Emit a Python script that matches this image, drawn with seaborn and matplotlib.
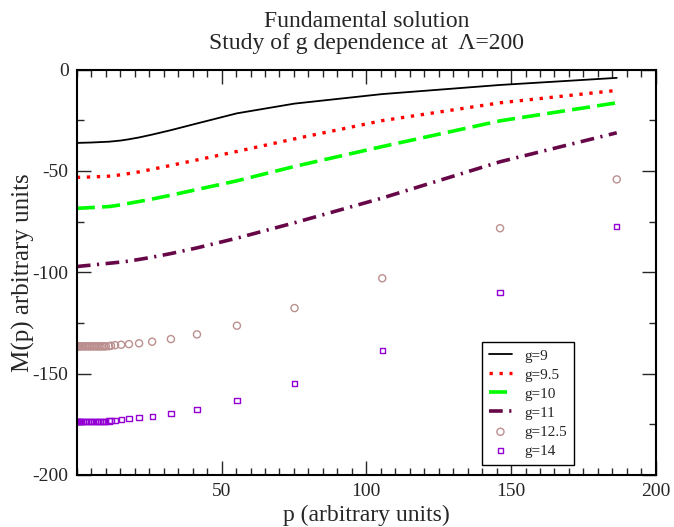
import matplotlib
matplotlib.use("Agg")
import matplotlib.pyplot as plt
import seaborn as sns
from matplotlib.ticker import MultipleLocator

# momentum grid for the continuous curves
p_line = [0, 5, 11.1, 13.2, 15.3, 18, 21.5, 26, 32.5, 41.5, 55.3, 75.2, 105.5, 146.2, 186.5]
m_g9 = [-36.2, -36.0, -35.6, -35.3, -35.0, -34.4, -33.5, -32.1, -29.9, -26.6, -21.6, -16.8, -12.1, -7.6, -4.1]
m_g95 = [-53.2, -53.0, -52.6, -52.3, -51.9, -51.3, -50.5, -49.2, -47.3, -44.6, -40.4, -34.2, -25.2, -16.4, -10.3]
m_g10 = [-68.5, -68.1, -67.6, -67.2, -66.7, -66.0, -65.1, -63.9, -62.0, -59.2, -54.9, -47.8, -38.0, -25.3, -16.4]
m_g11 = [-97.2, -96.5, -95.6, -95.3, -95.0, -94.5, -93.7, -92.6, -90.8, -88.0, -83.2, -75.6, -63.4, -45.5, -31.2]

# momentum grid for the point series (dense near zero)
p_pts = [0.05, 0.2, 0.45, 0.8, 1.2, 1.7, 2.2, 2.8, 3.4, 4.0, 4.6, 5.2, 5.8, 6.4, 7.0,
         7.6, 8.2, 8.8, 9.4, 10.0,
         11.1, 11.8, 13.2, 15.3, 18, 21.5, 26, 32.5, 41.5, 55.3, 75.2, 105.5, 146.2, 186.5]
m_g125 = [-136.6] * 20 + [-136.5, -136.3, -136.0, -135.8, -135.5, -135.1, -134.3, -133.0,
                          -130.7, -126.4, -117.7, -103.0, -78.3, -54.2]
m_g14 = [-173.5] * 20 + [-173.4, -173.2, -173.0, -172.7, -172.4, -171.9, -171.3, -169.8,
                         -167.7, -163.3, -155.0, -138.6, -109.9, -77.3]

sns.set_style("ticks")
plt.rcParams['font.family'] = ['Liberation Serif', 'DejaVu Serif']
plt.rcParams['axes.unicode_minus'] = False

fig = plt.figure(figsize=(6.74, 5.27), dpi=100)
ax = fig.add_axes([0.114, 0.099, 0.859, 0.769])

sns.lineplot(x=p_line, y=m_g9, ax=ax, color='black', lw=1.3, label='g=9')
sns.lineplot(x=p_line, y=m_g95, ax=ax, color='#ff0000', lw=2.4, label='g=9.5')
ax.lines[-1].set_linestyle((0, (1.0, 2.0)))
sns.lineplot(x=p_line, y=m_g10, ax=ax, color='#00ff00', lw=2.6, label='g=10')
ax.lines[-1].set_linestyle((0, (5.0, 2.0)))
sns.lineplot(x=p_line, y=m_g11, ax=ax, color='#670748', lw=2.6, label='g=11')
ax.lines[-1].set_linestyle((0, (3.8, 1.8, 0.6, 1.8)))

sns.scatterplot(x=p_pts, y=m_g125, ax=ax, marker='o', s=26, facecolor='none',
                edgecolor='#bc8f8f', linewidth=1.0, label='g=12.5')
sns.scatterplot(x=p_pts, y=m_g14, ax=ax, marker='s', s=14, facecolor='none',
                edgecolor='#9400d3', linewidth=1.0, label='g=14')

ax.set_xlim(0, 200)
ax.set_ylim(-200, 0)
ax.set_xticks([50, 100, 150, 200])
ax.set_yticks([0, -50, -100, -150, -200])
ax.xaxis.set_minor_locator(MultipleLocator(5))
ax.yaxis.set_minor_locator(MultipleLocator(25))
ax.tick_params(which='both', direction='in', top=True, right=True, labelsize=14, width=1.0)
ax.tick_params(which='major', length=10, pad=6)
ax.tick_params(which='minor', length=5)
for s in ax.spines.values():
    s.set_linewidth(1.5)
    s.set_color('black')

ax.set_xlabel('p (arbitrary units)', fontsize=17, labelpad=3)
ax.set_ylabel('M(p) arbitrary units', fontsize=18, labelpad=-2)
ax.set_title('Fundamental solution\nStudy of g dependence at  \u039b=200', fontsize=17,
             linespacing=1.05, pad=15)

leg = ax.legend(loc='lower left', bbox_to_anchor=(0.70, 0.025), borderaxespad=0,
                fontsize=11, handlelength=1.5, handletextpad=0.8, labelspacing=0.35,
                fancybox=False, framealpha=1, edgecolor='black', borderpad=0.45)
leg.get_frame().set_linewidth(1.0)

fig.savefig('out.png', dpi=100)
